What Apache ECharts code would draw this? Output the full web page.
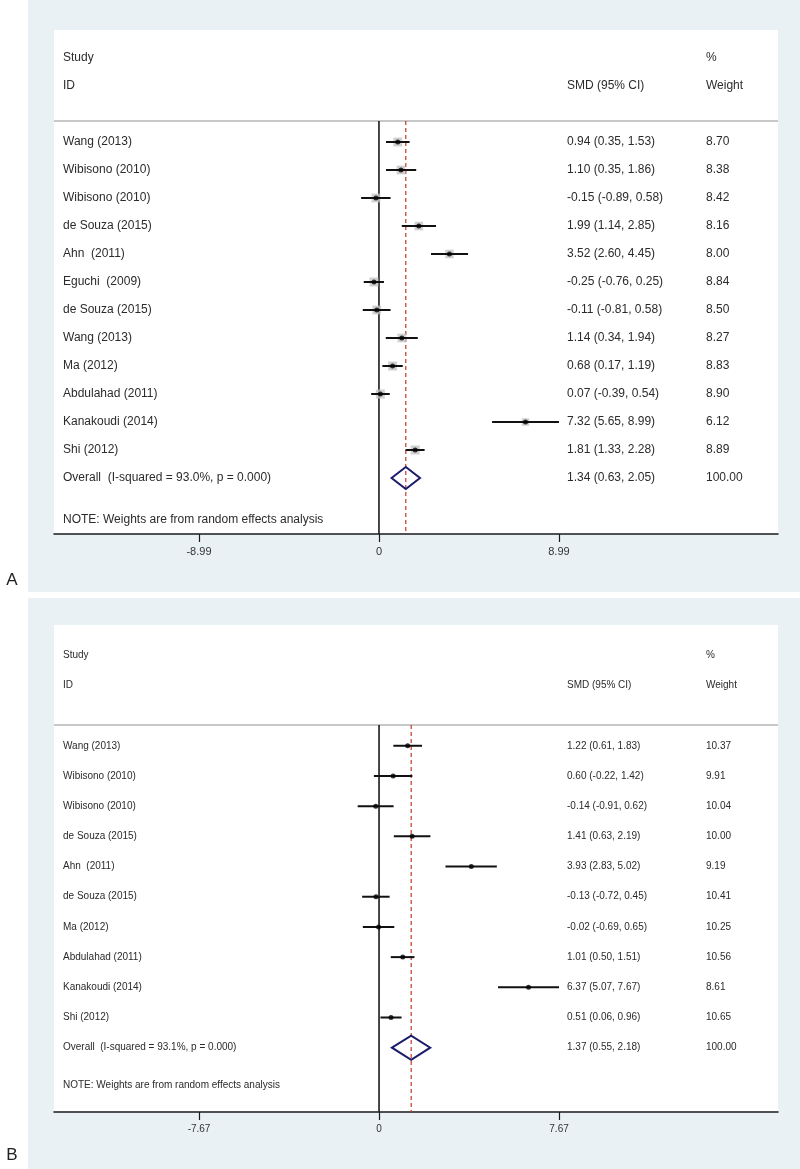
<!DOCTYPE html>
<html>
<head>
<meta charset="utf-8">
<script src="https://cdn.jsdelivr.net/npm/echarts@6/dist/echarts.min.js"></script>
<style>
html,body{margin:0;padding:0;background:#fff;}
#chart{width:800px;height:1169px;}
</style>
</head>
<body>
<div id="chart"></div>
<script>
// ---------- Panel A data ----------
const studiesA = ['Wang (2013)','Wibisono (2010)','Wibisono (2010)','de Souza (2015)','Ahn  (2011)','Eguchi  (2009)','de Souza (2015)','Wang (2013)','Ma (2012)','Abdulahad (2011)','Kanakoudi (2014)','Shi (2012)'];
const smdA    = [0.94, 1.10, -0.15, 1.99, 3.52, -0.25, -0.11, 1.14, 0.68, 0.07, 7.32, 1.81];
const lowA    = [0.35, 0.35, -0.89, 1.14, 2.60, -0.76, -0.81, 0.34, 0.17, -0.39, 5.65, 1.33];
const highA   = [1.53, 1.86, 0.58, 2.85, 4.45, 0.25, 0.58, 1.94, 1.19, 0.54, 8.99, 2.28];
const weightA = [8.70, 8.38, 8.42, 8.16, 8.00, 8.84, 8.50, 8.27, 8.83, 8.90, 6.12, 8.89];
const overallA = {label:'Overall  (I-squared = 93.0%, p = 0.000)', est:1.34, low:0.63, high:2.05, weight:100.00};
const ticksA = [-8.99, 0, 8.99];

// ---------- Panel B data ----------
const studiesB = ['Wang (2013)','Wibisono (2010)','Wibisono (2010)','de Souza (2015)','Ahn  (2011)','de Souza (2015)','Ma (2012)','Abdulahad (2011)','Kanakoudi (2014)','Shi (2012)'];
const smdB    = [1.22, 0.60, -0.14, 1.41, 3.93, -0.13, -0.02, 1.01, 6.37, 0.51];
const lowB    = [0.61, -0.22, -0.91, 0.63, 2.83, -0.72, -0.69, 0.50, 5.07, 0.06];
const highB   = [1.83, 1.42, 0.62, 2.19, 5.02, 0.45, 0.65, 1.51, 7.67, 0.96];
const weightB = [10.37, 9.91, 10.04, 10.00, 9.19, 10.41, 10.25, 10.56, 8.61, 10.65];
const overallB = {label:'Overall  (I-squared = 93.1%, p = 0.000)', est:1.37, low:0.55, high:2.18, weight:100.00};
const ticksB = [-7.67, 0, 7.67];

const noteText = 'NOTE: Weights are from random effects analysis';

// ---------- layout ----------
const FONT = '"Liberation Sans", Arial, sans-serif';
const panels = [
  {studies:studiesA, smd:smdA, low:lowA, high:highA, weight:weightA, overall:overallA, ticks:ticksA,
   grid:{left:54, right:22, top:30, height:504}, xRange:[-16.23, 19.93], yRange:[-3, 15],
   headerRow:0.25, noteRow:14.5, fontSize:12, tickFont:11, showBox:true, diamondHalf:0.39, letter:'A', letterY:580,
   bg:{y:0, h:592}},
  {studies:studiesB, smd:smdB, low:lowB, high:highB, weight:weightB, overall:overallB, ticks:ticksB,
   grid:{left:54, right:22, top:625, height:487}, xRange:[-13.85, 17.0], yRange:[-3, 13.13],
   headerRow:0.31, noteRow:12.26, fontSize:10, tickFont:10, showBox:false, diamondHalf:0.4, letter:'B', letterY:1155,
   bg:{y:598, h:571}}
];
const colX = {label:63, smd:567, weight:706};

const fmt = v => v.toFixed(2);

const grids = [], xAxes = [], yAxes = [], series = [], graphics = [];

panels.forEach((p, gi) => {
  graphics.push({type:'rect', z:-10, shape:{x:28, y:p.bg.y, width:772, height:p.bg.h}, style:{fill:'#eaf1f5'}});
  graphics.push({type:'text', x:12, y:p.letterY, style:{text:p.letter, font:'17px ' + FONT, fill:'#222', align:'center', verticalAlign:'middle'}});

  grids.push(Object.assign({show:true, backgroundColor:'#ffffff', borderWidth:0}, p.grid));
  xAxes.push({
    type:'value', gridIndex:gi, min:p.xRange[0], max:p.xRange[1],
    splitLine:{show:false},
    axisLine:{show:true, onZero:false, lineStyle:{color:'#1a1a1a', width:1.5}},
    axisTick:{show:true, inside:false, length:8, customValues:p.ticks, lineStyle:{color:'#1a1a1a', width:1.2}},
    axisLabel:{show:true, customValues:p.ticks, margin:12, fontSize:p.tickFont, fontFamily:FONT, color:'#333',
      formatter: v => (v === 0 ? '0' : fmt(v))}
  });
  yAxes.push({type:'value', gridIndex:gi, inverse:true, min:p.yRange[0], max:p.yRange[1], show:false});

  const n = p.studies.length;
  const rows = p.studies.map((_, i) => i + 1);
  const overallRow = n + 1;
  const font = p.fontSize + 'px ' + FONT;
  const txtColor = '#2b2b2b';

  // header gray line
  series.push({type:'custom', xAxisIndex:gi, yAxisIndex:gi, silent:true, z:2,
    data:[[p.xRange[0], p.xRange[1], p.headerRow]],
    renderItem:(params, api) => {
      const a = api.coord([api.value(0), api.value(2)]);
      const b = api.coord([api.value(1), api.value(2)]);
      return {type:'line', shape:{x1:a[0], y1:a[1], x2:b[0], y2:b[1]}, style:{stroke:'#c8c8c8', lineWidth:2}};
    }});

  // null line (x = 0) and overall dashed line
  series.push({type:'custom', xAxisIndex:gi, yAxisIndex:gi, silent:true, z:3,
    data:[[0, p.headerRow, p.yRange[1], 0], [p.overall.est, p.headerRow, p.yRange[1], 1]],
    renderItem:(params, api) => {
      const a = api.coord([api.value(0), api.value(1)]);
      const b = api.coord([api.value(0), api.value(2)]);
      const dashed = api.value(3) === 1;
      return {type:'line', shape:{x1:a[0], y1:a[1], x2:b[0], y2:b[1]},
        style: dashed ? {stroke:'#c0392b', lineWidth:1.2, lineDash:[4,3]} : {stroke:'#1a1a1a', lineWidth:1.6}};
    }});

  // weight boxes
  if (p.showBox) {
    series.push({type:'scatter', xAxisIndex:gi, yAxisIndex:gi, silent:true, z:4,
      symbol:'rect', itemStyle:{color:'#c4c4c4'},
      symbolSize: (val, params) => 9 * Math.sqrt(p.weight[params.dataIndex] / 8.9),
      data: p.smd.map((v, i) => [v, rows[i]])});
  }

  // CI lines
  series.push({type:'custom', xAxisIndex:gi, yAxisIndex:gi, silent:true, z:5,
    data: p.low.map((lo, i) => [lo, p.high[i], rows[i]]),
    renderItem:(params, api) => {
      const a = api.coord([api.value(0), api.value(2)]);
      const b = api.coord([api.value(1), api.value(2)]);
      return {type:'line', shape:{x1:a[0], y1:a[1], x2:b[0], y2:b[1]}, style:{stroke:'#111', lineWidth:2}};
    }});

  // point estimates
  series.push({type:'scatter', xAxisIndex:gi, yAxisIndex:gi, silent:true, z:6,
    symbol:'circle', symbolSize:5, itemStyle:{color:'#000'},
    data: p.smd.map((v, i) => [v, rows[i]])});

  // overall diamond
  series.push({type:'custom', xAxisIndex:gi, yAxisIndex:gi, silent:true, z:6,
    data:[[p.overall.low, p.overall.est, p.overall.high, overallRow]],
    renderItem:(params, api) => {
      const r = api.value(3), h = p.diamondHalf;
      const pts = [
        api.coord([api.value(0), r]),
        api.coord([api.value(1), r - h]),
        api.coord([api.value(2), r]),
        api.coord([api.value(1), r + h])
      ];
      return {type:'polygon', shape:{points:pts}, style:{fill:'none', stroke:'#1c1c6b', lineWidth:2}};
    }});

  // text columns
  const textRows = [];
  textRows.push({row:-2, x:colX.label, text:'Study'});
  textRows.push({row:-1, x:colX.label, text:'ID'});
  textRows.push({row:-1, x:colX.smd, text:'SMD (95% CI)'});
  textRows.push({row:-2, x:colX.weight, text:'%'});
  textRows.push({row:-1, x:colX.weight, text:'Weight'});
  p.studies.forEach((s, i) => {
    textRows.push({row:rows[i], x:colX.label, text:s});
    textRows.push({row:rows[i], x:colX.smd, text:fmt(p.smd[i]) + ' (' + fmt(p.low[i]) + ', ' + fmt(p.high[i]) + ')'});
    textRows.push({row:rows[i], x:colX.weight, text:fmt(p.weight[i])});
  });
  textRows.push({row:overallRow, x:colX.label, text:p.overall.label});
  textRows.push({row:overallRow, x:colX.smd, text:fmt(p.overall.est) + ' (' + fmt(p.overall.low) + ', ' + fmt(p.overall.high) + ')'});
  textRows.push({row:overallRow, x:colX.weight, text:fmt(p.overall.weight)});
  textRows.push({row:p.noteRow, x:colX.label, text:noteText});

  series.push({type:'custom', xAxisIndex:gi, yAxisIndex:gi, silent:true, z:7,
    data: textRows.map(t => [0, t.row]),
    renderItem:(params, api) => {
      const t = textRows[params.dataIndex];
      const c = api.coord([0, api.value(1)]);
      return {type:'text', x:t.x, y:c[1], style:{text:t.text, font:font, fill:txtColor, align:'left', verticalAlign:'middle'}};
    }});
});

const chart = echarts.init(document.getElementById('chart'), null, {renderer:'canvas'});
chart.setOption({
  animation:false,
  backgroundColor:'#ffffff',
  graphic:graphics,
  grid:grids,
  xAxis:xAxes,
  yAxis:yAxes,
  series:series
});
</script>
</body>
</html>
